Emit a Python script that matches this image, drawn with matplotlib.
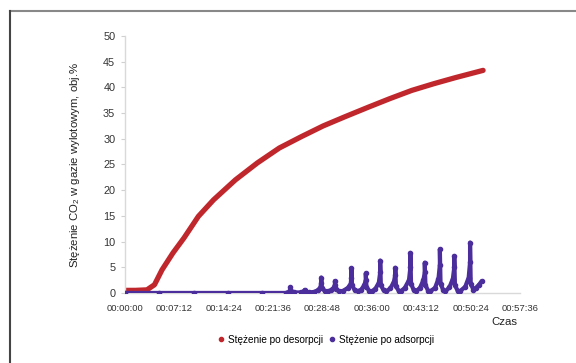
import matplotlib
matplotlib.use('Agg')
import matplotlib.pyplot as plt
from matplotlib.lines import Line2D

plt.rcParams['font.family'] = ['Liberation Sans', 'DejaVu Sans']
plt.rcParams['mathtext.default'] = 'regular'

# czas w minutach
desorp_t = [0, 1.5, 3.2, 4.3, 5.4, 7.0, 8.6, 10.7, 12.9, 16.1, 19.3, 22.5, 25.7,
            28.9, 32.1, 35.4, 38.6, 41.8, 45.0, 48.2, 52.2]
desorp_v = [0.5, 0.5, 0.6, 1.6, 4.5, 7.8, 10.7, 14.9, 18.1, 22.0, 25.3, 28.2, 30.4,
            32.5, 34.3, 36.1, 37.8, 39.4, 40.7, 41.9, 43.3]

adsorp_t = [0, 5, 10, 15, 20, 23.5,
            23.6, 24.0, 24.1, 24.2, 24.6,
            25.7, 26.1, 26.2, 26.3, 26.8,
            27.6, 28.2, 28.5, 28.6, 28.6, 28.7, 29.1, 29.6,
            30.0, 30.4, 30.6, 30.6, 30.7, 31.2,
            31.8, 32.5, 32.9, 33.0, 33.0, 33.1, 33.5, 33.9,
            34.4, 34.9, 35.1, 35.1, 35.2, 35.6, 36.0,
            36.5, 37.0, 37.2, 37.2, 37.3, 37.7, 38.1,
            38.7, 39.2, 39.4, 39.4, 39.5, 39.9, 40.2,
            40.8, 41.4, 41.6, 41.6, 41.7, 42.1, 42.4,
            43.0, 43.5, 43.7, 43.7, 43.8, 44.2, 44.5,
            45.2, 45.7, 45.9, 45.9, 46.0, 46.4, 46.7,
            47.3, 47.8, 48.0, 48.0, 48.1, 48.5, 48.8,
            49.6, 50.1, 50.3, 50.3, 50.4, 50.8, 51.1, 51.6, 52.0]
adsorp_v = [0, 0, 0, 0, 0, 0,
            0.05, 0.3, 1.1, 0.4, 0.1,
            0.1, 0.3, 0.6, 0.2, 0.1,
            0.2, 0.6, 1.2, 2.0, 3.0, 1.0, 0.4, 0.3,
            0.5, 1.0, 1.6, 2.3, 0.8, 0.3,
            0.4, 1.0, 1.8, 3.0, 4.8, 1.5, 0.5, 0.3,
            0.6, 1.5, 2.6, 3.8, 1.2, 0.4, 0.3,
            0.8, 2.0, 4.0, 6.3, 1.5, 0.5, 0.3,
            0.9, 2.2, 3.5, 4.9, 1.3, 0.4, 0.3,
            1.0, 2.5, 5.0, 7.8, 1.8, 0.5, 0.3,
            1.0, 2.5, 4.0, 5.9, 1.5, 0.4, 0.3,
            1.0, 2.8, 5.5, 8.5, 1.8, 0.5, 0.3,
            1.1, 2.8, 5.0, 7.2, 1.5, 0.4, 0.3,
            1.2, 3.0, 6.0, 9.8, 1.8, 0.6, 0.9, 1.6, 2.3]

tick_min = [0, 7.2, 14.4, 21.6, 28.8, 36.0, 43.2, 50.4, 57.6]
tick_lab = ['00:00:00', '00:07:12', '00:14:24', '00:21:36', '00:28:48',
            '00:36:00', '00:43:12', '00:50:24', '00:57:36']

red = '#c0272d'
blue = '#4b2e9b'

fig = plt.figure(figsize=(5.76, 3.63), dpi=100)
ax = fig.add_axes([0.217, 0.193, 0.686, 0.708])

ax.plot(desorp_t, desorp_v, color=red, lw=3.8, solid_capstyle='round',
        solid_joinstyle='round', zorder=2)
ax.plot(adsorp_t, adsorp_v, color=blue, lw=3.0, marker='o', ms=3.0,
        solid_capstyle='round', solid_joinstyle='round', zorder=3)

ax.set_xlim(0, 57.6)
ax.set_ylim(0, 50)
ax.set_xticks(tick_min)
ax.set_xticklabels(tick_lab)
ax.set_yticks(range(0, 51, 5))
ax.tick_params(axis='x', length=0, labelsize=6.8, colors='#333333', pad=8)
ax.tick_params(axis='y', length=3, width=0.8, color='#d0d0d0', labelsize=7.8,
               labelcolor='#333333', pad=4)
for s in ['top', 'right']:
    ax.spines[s].set_visible(False)
for s in ['left', 'bottom']:
    ax.spines[s].set_color('#d9d9d9')
    ax.spines[s].set_linewidth(1.0)

ax.set_ylabel('Stężenie CO$_2$ w gazie wylotowym, obj.%', fontsize=8.2,
              color='#222222', labelpad=15)
fig.text(0.875, 0.105, 'Czas', fontsize=8.2, color='#222222', ha='center')

handles = [Line2D([], [], color=red, marker='o', ls='', ms=3),
           Line2D([], [], color=blue, marker='o', ls='', ms=3)]
fig.legend(handles, ['Stężenie po desorpcji', 'Stężenie po adsorpcji'],
           loc='center', bbox_to_anchor=(0.565, 0.064), ncol=2, frameon=False,
           fontsize=7.2, handletextpad=0.2, columnspacing=0.4, handlelength=1)

# ramka wokol wykresu
fig.add_artist(Line2D([10 / 576, 1], [1 - 11 / 363, 1 - 11 / 363],
                      color='#888888', lw=1.5))
fig.add_artist(Line2D([10 / 576, 10 / 576], [0, 1 - 11 / 363],
                      color='#444444', lw=1.5))

plt.savefig('out.png', dpi=100)
